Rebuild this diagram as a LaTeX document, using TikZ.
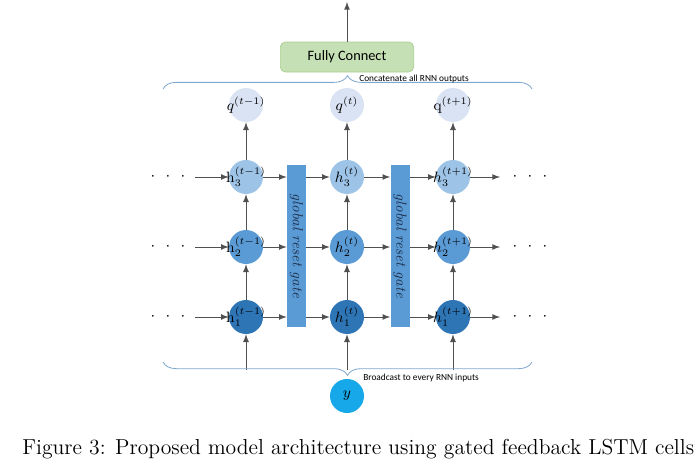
\documentclass[tikz,border=0pt]{standalone}
\usepackage{fontspec}
\newfontfamily\calibri{Carlito}
\usetikzlibrary{decorations.pathreplacing}

\definecolor{fcfill}{HTML}{C5E0B4}
\definecolor{fcline}{HTML}{A9CD8E}
\definecolor{qcol}{HTML}{DAE3F3}
\definecolor{hthree}{HTML}{9DC3E6}
\definecolor{htwo}{HTML}{5B9BD5}
\definecolor{hone}{HTML}{2E75B6}
\definecolor{gatecol}{HTML}{5B9BD5}
\definecolor{gatetext}{HTML}{1F3250}
\definecolor{ycol}{HTML}{16A8E8}
\definecolor{bracecol}{HTML}{7FA7D0}
\definecolor{linecol}{HTML}{505050}

\newcommand{\dotrow}{${\cdot}\hspace{6.2pt}{\cdot}\hspace{6.2pt}{\cdot}$}

\begin{document}
\begin{tikzpicture}[x=0.6pt,y=-0.6pt,>=latex,
    link/.style={->,draw=linecol,line width=0.6pt},
    cell/.style={circle,minimum size=20.4pt,inner sep=0pt,font=\fontsize{9}{10}\selectfont},
    gatebox/.style={fill=gatecol,minimum width=11.4pt,minimum height=97pt,inner sep=0pt},
    curly/.style={draw=bracecol,line width=0.5pt,decorate,decoration={brace,amplitude=8pt}},
    note/.style={font=\calibri\fontsize{5.6}{6}\selectfont,anchor=west,inner sep=0pt}]
    \useasboundingbox (0,0) rectangle (699,474);

    % output layer
    \draw (347,57) node[rounded corners=3pt,fill=fcfill,draw=fcline,minimum width=80pt,
        minimum height=18pt,font=\calibri\fontsize{8.6}{10}\selectfont] (fc) {Fully Connect};
    \coordinate (out) at (347,2);
    \draw[link] (fc) -- (out);
    \draw[curly] (163,89) -- (532,89) coordinate (topbrace);
    \draw (359,79) node[note] (cat) {Concatenate all RNN outputs};

    % q outputs
    \draw (246,105) node[cell,fill=qcol] (qa) {\makebox[0pt]{$q^{(t-1)}$}}
          (347,105) node[cell,fill=qcol] (qb) {\makebox[0pt]{$q^{(t)}$}}
          (453,105) node[cell,fill=qcol] (qc) {\makebox[0pt]{$\mathrm{q}^{(t+1)}$}};

    % the three layers of cells
    \draw (246,177) node[cell,fill=hthree] (ha3) {\makebox[0pt]{$\mathrm{h}_3^{(t-1)}$}}
          (347,177) node[cell,fill=hthree] (hb3) {\makebox[0pt]{$h_3^{(t)}$}}
          (453,177) node[cell,fill=hthree] (hc3) {\makebox[0pt]{$h_3^{(t+1)}$}};
    \draw (246,247) node[cell,fill=htwo] (ha2) {\makebox[0pt]{$\mathrm{h}_2^{(t-1)}$}}
          (347,247) node[cell,fill=htwo] (hb2) {\makebox[0pt]{$h_2^{(t)}$}}
          (453,247) node[cell,fill=htwo] (hc2) {\makebox[0pt]{$h_2^{(t+1)}$}};
    \draw (246,317) node[cell,fill=hone] (ha1) {\makebox[0pt]{$\mathrm{h}_1^{(t-1)}$}}
          (347,317) node[cell,fill=hone] (hb1) {\makebox[0pt]{$h_1^{(t)}$}}
          (453,317) node[cell,fill=hone] (hc1) {\makebox[0pt]{$h_1^{(t+1)}$}};

    % global reset gates
    \draw (296.5,246) node[gatebox] (ga) {}
          (400,246) node[gatebox] (gb) {};
    \node[rotate=-90,text=gatetext,font=\fontsize{8.8}{10}\selectfont\itshape] (gatxa) at (ga) {global reset gate};
    \node[rotate=-90,text=gatetext,font=\fontsize{8.8}{10}\selectfont\itshape] (gatxb) at (gb) {global reset gate};

    % dots on both sides
    \draw (168,177) node (la3) {\dotrow}
          (168,247) node (la2) {\dotrow}
          (168,317) node (la1) {\dotrow}
          (530,177) node (ra3) {\dotrow}
          (530,247) node (ra2) {\dotrow}
          (530,317) node (ra1) {\dotrow};
    \coordinate (sa3) at (195,177);
    \coordinate (sa2) at (195,247);
    \coordinate (sa1) at (195,317);
    \coordinate (ea3) at (500,177);
    \coordinate (ea2) at (500,247);
    \coordinate (ea1) at (500,317);

    % horizontal links
    \draw[link] (sa3) -- (ha3);
    \draw[link] (sa2) -- (ha2);
    \draw[link] (sa1) -- (ha1);
    \draw[link] (ha3) -- (ha3 -| ga.west);
    \draw[link] (ha2) -- (ha2 -| ga.west);
    \draw[link] (ha1) -- (ha1 -| ga.west);
    \draw[link] (hb3 -| ga.east) -- (hb3);
    \draw[link] (hb2 -| ga.east) -- (hb2);
    \draw[link] (hb1 -| ga.east) -- (hb1);
    \draw[link] (hb3) -- (hb3 -| gb.west);
    \draw[link] (hb2) -- (hb2 -| gb.west);
    \draw[link] (hb1) -- (hb1 -| gb.west);
    \draw[link] (hc3 -| gb.east) -- (hc3);
    \draw[link] (hc2 -| gb.east) -- (hc2);
    \draw[link] (hc1 -| gb.east) -- (hc1);
    \draw[link] (hc3) -- (ea3);
    \draw[link] (hc2) -- (ea2);
    \draw[link] (hc1) -- (ea1);

    % vertical links
    \draw[link] (ha1) -- (ha2);
    \draw[link] (ha2) -- (ha3);
    \draw[link] (ha3) -- (qa);
    \draw[link] (hb1) -- (hb2);
    \draw[link] (hb2) -- (hb3);
    \draw[link] (hb3) -- (qb);
    \draw[link] (hc1) -- (hc2);
    \draw[link] (hc2) -- (hc3);
    \draw[link] (hc3) -- (qc);

    % input
    \coordinate (ina) at (246,370);
    \coordinate (inb) at (347,370);
    \coordinate (inc) at (453,370);
    \draw[link] (ina) -- (ha1);
    \draw[link] (inb) -- (hb1);
    \draw[link] (inc) -- (hc1);
    \draw[curly,decoration={mirror}] (163,362) -- (532,362) coordinate (botbrace);
    \draw (363,378) node[note] (bcast) {Broadcast to every RNN inputs};
    \draw (347,396) node[circle,fill=ycol,minimum size=20.4pt,inner sep=0pt,font=\fontsize{9}{10}\selectfont] (yin) {$y$};

    % caption
    \draw (22,449) node[anchor=west,inner sep=0pt,font=\fontsize{13}{15}\selectfont] (capt) {Figure 3: Proposed model architecture using gated feedback LSTM cells};
\end{tikzpicture}
\end{document}
